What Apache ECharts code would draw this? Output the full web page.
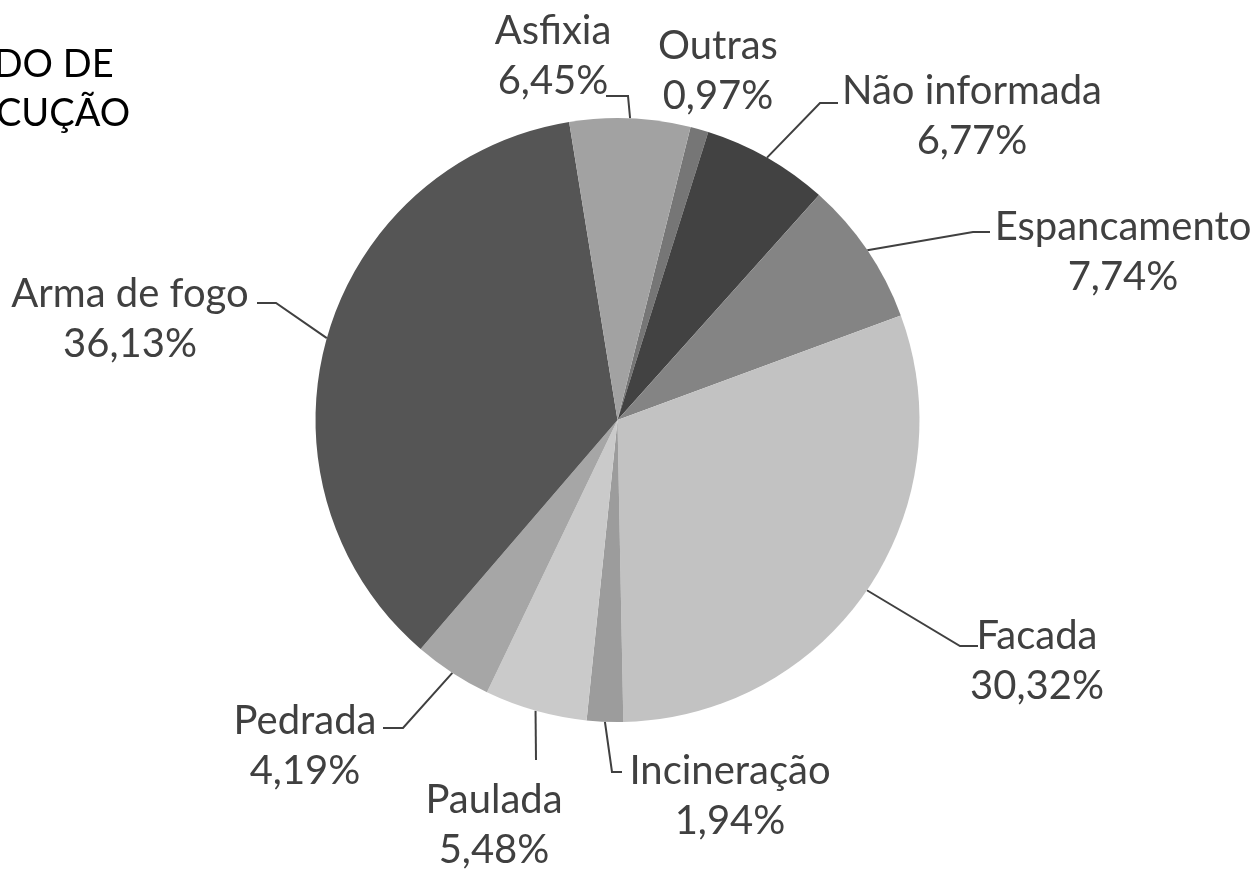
<!DOCTYPE html>
<html>
<head>
<meta charset="utf-8">
<script src="https://cdn.jsdelivr.net/npm/echarts@6/dist/echarts.min.js"></script>
<style>
  html, body { margin: 0; padding: 0; background: #fff; }
  #chart { width: 1260px; height: 870px; }
</style>
</head>
<body>
<div id="chart"></div>
<script>
// fatias em sentido horário, a partir de "Outras"
var categorias = ['Outras', 'Não informada', 'Espancamento', 'Facada', 'Incineração', 'Paulada', 'Pedrada', 'Arma de fogo', 'Asfixia'];
var percentuais = [0.97, 6.77, 7.74, 30.32, 1.94, 5.48, 4.19, 36.13, 6.45];
var cores = ['#767676', '#424242', '#848484', '#c2c2c2', '#9c9c9c', '#cacaca', '#a6a6a6', '#555555', '#a2a2a2'];

// posição do rótulo [x, y] e guia [dobraX, dobraY, fimX, fimY]
var rotulos = [
    [718, 71, null],
    [972, 116, [820, 103, 838, 103]],
    [1123, 252, [973, 232, 990, 232]],
    [1037, 661, [960, 646, 978, 646]],
    [730, 796, [612, 772, 622, 772]],
    [494, 825, [536, 760, 536, 760]],
    [305, 746, [403, 728, 383, 728]],
    [130, 319, [276, 303, 257, 303]],
    [553, 56, [628, 96, 606, 96]]
];

function fmt(v) {
    return v.toFixed(2).replace('.', ',') + '%';
}

var dados = [];
for (var i = 0; i < categorias.length; i++) {
    var item = { name: categorias[i], value: percentuais[i], itemStyle: { color: cores[i] } };
    if (!rotulos[i][2]) {
        item.labelLine = { show: false };
    }
    dados.push(item);
}

var myChart = echarts.init(document.getElementById('chart'));
var option = {
    animation: false,
    backgroundColor: '#fff',
    title: {
        text: 'MODO DE\nEXECUÇÃO',
        left: -72,
        top: 40,
        padding: 0,
        textStyle: {
            fontFamily: 'Lato',
            fontSize: 38,
            fontWeight: 'normal',
            color: '#000',
            lineHeight: 49
        }
    },
    series: [{
        type: 'pie',
        center: [617.5, 420],
        radius: 302,
        startAngle: 76,
        clockwise: true,
        data: dados,
        itemStyle: { borderWidth: 0 },
        label: {
            show: true,
            position: 'outside',
            formatter: function (p) {
                return p.name + '\n' + fmt(p.value);
            },
            fontFamily: 'Lato',
            fontSize: 40,
            lineHeight: 50,
            color: '#404040',
            align: 'center'
        },
        labelLine: {
            show: true,
            lineStyle: { color: '#404040', width: 2 }
        },
        labelLayout: function (p) {
            var r = rotulos[p.dataIndex];
            var res = { x: r[0], y: r[1], align: 'center', verticalAlign: 'middle' };
            if (r[2] && p.labelLinePoints) {
                res.labelLinePoints = [p.labelLinePoints[0], [r[2][0], r[2][1]], [r[2][2], r[2][3]]];
            }
            return res;
        }
    }]
};
myChart.setOption(option);
</script>
</body>
</html>
